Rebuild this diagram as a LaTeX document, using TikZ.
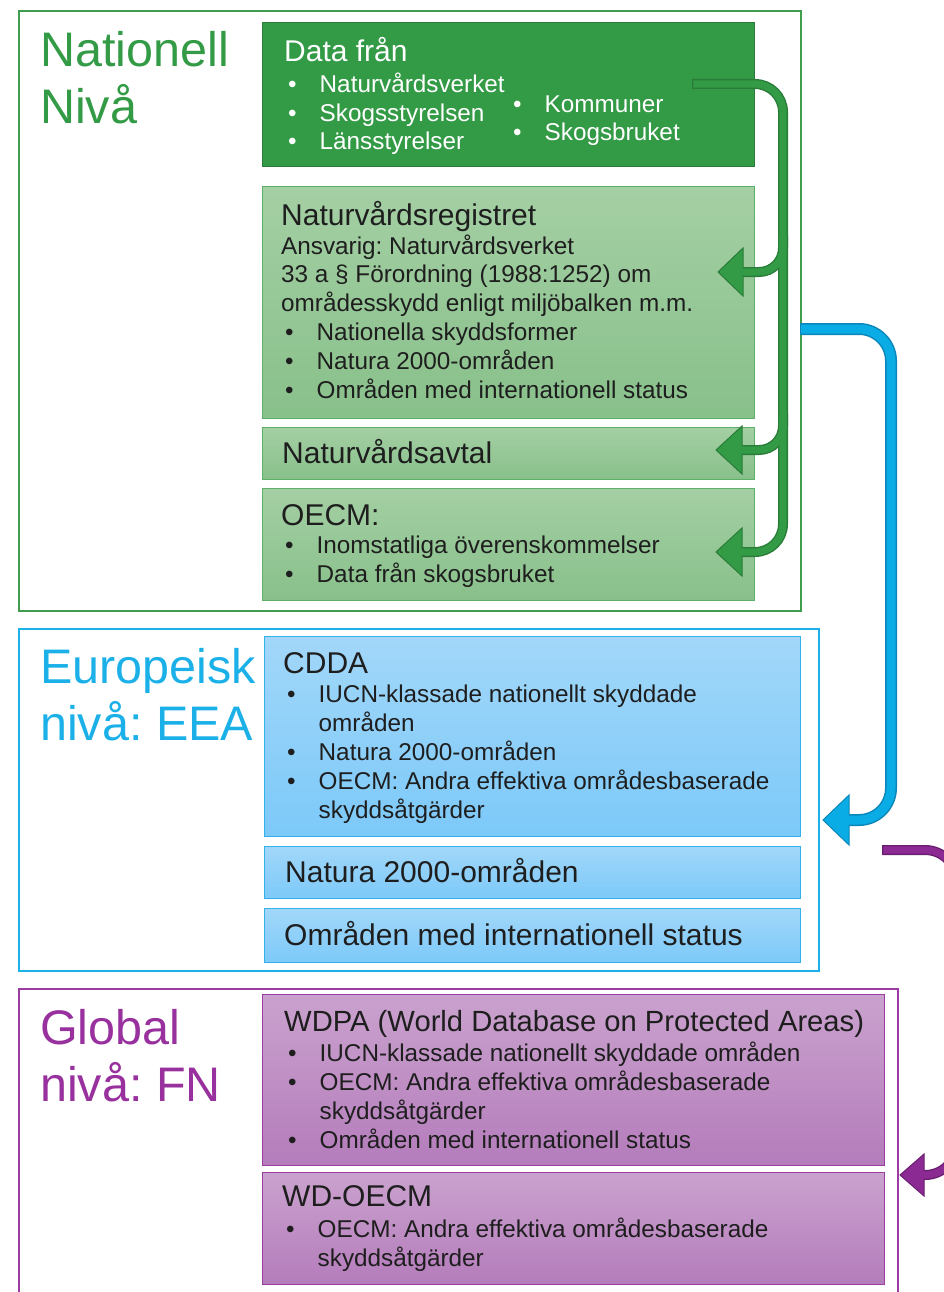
\documentclass[tikz,border=0pt]{standalone}
\usepackage{fontspec}
\setmainfont{Liberation Sans}
\usetikzlibrary{positioning}
\frenchspacing

\definecolor{natgreen}{HTML}{339A46}
\definecolor{natdark}{HTML}{2A7D38}
\definecolor{natline}{HTML}{3E9E4D}
\definecolor{natlight}{HTML}{A4CFA4}
\definecolor{natmid}{HTML}{88C08A}
\definecolor{natedge}{HTML}{5DB068}
\definecolor{eublue}{HTML}{1BB1E8}
\definecolor{eulight}{HTML}{A2D7F9}
\definecolor{eumid}{HTML}{7CC9F9}
\definecolor{euedge}{HTML}{34B2EA}
\definecolor{euarrow}{HTML}{0AACE6}
\definecolor{eudark}{HTML}{0B86B8}
\definecolor{fnpurple}{HTML}{98309E}
\definecolor{fnlight}{HTML}{CAA2CE}
\definecolor{fnmid}{HTML}{B47CBB}
\definecolor{fnedge}{HTML}{9C3CA2}
\definecolor{fnarrow}{HTML}{8C2A94}
\definecolor{fndark}{HTML}{6A1E70}
\definecolor{bodytext}{HTML}{1E1E1E}

\newcommand{\bul}{\makebox[35.5pt][l]{\hspace*{4pt}\textbullet}}
\newcommand{\ind}{\hspace*{35.5pt}}
% left pointing arrow head: tip, fill, edge, length, half width
\newcommand{\lefttip}[5]{%
  \filldraw[fill=#2, draw=#3, line width=1pt, line join=miter]
    (#1) -- ++(#4,-#5) -- ++(0,2*#5) -- cycle;}

\begin{document}
\begin{tikzpicture}[x=1pt, y=-1pt,
    frame/.style={draw, line width=1.6pt, anchor=north west, inner sep=0},
    box/.style={draw, line width=1pt, anchor=north west, inner sep=0},
    gbox/.style={box, draw=natedge, top color=natlight, bottom color=natmid},
    bbox/.style={box, draw=euedge, top color=eulight, bottom color=eumid},
    pbox/.style={box, draw=fnedge, top color=fnlight, bottom color=fnmid},
    sz/.style 2 args={minimum width=#1pt, minimum height=#2pt},
    txt/.style={anchor=base west, align=left, inner sep=0, text=bodytext,
      font=\fontsize{24.3}{28.8}\selectfont},
    head/.style={txt, font=\fontsize{30}{34}\selectfont},
    big/.style={anchor=base west, align=left, inner sep=0,
      font=\fontsize{48.5}{57}\selectfont}]
    \useasboundingbox (0,0) rectangle (944,1292);
    \clip (0,0) rectangle (944,1292);

    % frames
    \node[frame, draw=natline, sz={782}{600}] (natframe) at (18,10) {};
    \node[frame, draw=eublue, sz={800}{342}] (euframe) at (18,628) {};
    \node[frame, draw=fnedge, sz={879}{320}] (fnframe) at (18,988) {};

    % multi-line nodes sit on the baseline of their last line
    \node[big, text=natgreen] (natlab) at (40,124) {Nationell\\Nivå};
    \node[big, text=eublue] (eulab) at (40,740) {Europeisk\\nivå: EEA};
    \node[big, text=fnpurple] (fnlab) at (40,1101) {Global\\nivå: FN};

    % nationell nivå
    \node[box, draw=natdark, fill=natgreen, sz={492}{144}] (data) at (262,22) {};
    \node[gbox, sz={492}{232}] (reg) at (262,186) {};
    \node[gbox, sz={492}{52}] (avtal) at (262,427) {};
    \node[gbox, sz={492}{112}] (oecm) at (262,488) {};

    \node[head, text=white] (datat) at (284,62) {Data från};
    \node[txt, text=white] (datal) at (284,150) {\bul Naturvårdsverket\\\bul Skogsstyrelsen\\\bul Länsstyrelser};
    \node[txt, text=white] (datar) at (509,141) {\bul Kommuner\\\bul Skogsbruket};

    \node[head] (regt) at (281,225) {Naturvårdsregistret};
    \node[txt] (regb) at (281,398) {Ansvarig: Naturvårdsverket\\33 a § Förordning (1988:1252) om\\områdesskydd enligt miljöbalken m.m.\\\bul Nationella skyddsformer\\\bul Natura 2000-områden\\\bul Områden med internationell status};
    \node[head] (avtalt) at (282,463) {Naturvårdsavtal};
    \node[head] (oecmt) at (281,525) {OECM:};
    \node[txt] (oecmb) at (281,582) {\bul Inomstatliga överenskommelser\\\bul Data från skogsbruket};

    % europeisk nivå
    \node[bbox, sz={536}{200}] (cdda) at (264,636) {};
    \node[bbox, sz={536}{52}] (n2000) at (264,846) {};
    \node[bbox, sz={536}{54}] (intl) at (264,908) {};

    \node[head] (cddat) at (283,673) {CDDA};
    \node[txt] (cddab) at (283,818) {\bul IUCN-klassade nationellt skyddade\\\ind områden\\\bul Natura 2000-områden\\\bul OECM: Andra effektiva områdesbaserade\\\ind skyddsåtgärder};
    \node[head] (n2000t) at (285,882) {Natura 2000-områden};
    \node[head] (intlt) at (284,945) {Områden med internationell status};

    % global nivå
    \node[pbox, sz={622}{171}] (wdpa) at (262,994) {};
    \node[pbox, sz={622}{112}] (wdoecm) at (262,1172) {};

    \node[head, font=\fontsize{29.2}{34}\selectfont] (wdpat) at (284,1031) {WDPA (World Database on Protected Areas)};
    \node[txt] (wdpab) at (284,1148) {\bul IUCN-klassade nationellt skyddade områden\\\bul OECM: Andra effektiva områdesbaserade\\\ind skyddsåtgärder\\\bul Områden med internationell status};
    \node[head] (wdoecmt) at (282,1206) {WD-OECM};
    \node[txt] (wdoecmb) at (282,1266) {\bul OECM: Andra effektiva områdesbaserade\\\ind skyddsåtgärder};

    % arrow points
    \coordinate (gsrc) at (692,84);
    \coordinate (gtip1) at (718,272);
    \coordinate (gtip2) at (716,450);
    \coordinate (gtip3) at (716,552);
    \coordinate (bsrc) at (800,329);
    \coordinate (btip) at (823,820);
    \coordinate (psrc) at (882,850);
    \coordinate (ptip) at (900,1175);

    % green arrows: border, heads, then inner colour
    \foreach \w/\c/\s/\o in {10/natdark/24/0, 7.2/natgreen/20/1.4} {
      \draw[line width=\w pt, \c, rounded corners=28] ([xshift=\o]gsrc) -- (783,84) -- (783,552) -- ([xshift=\s]gtip3);
      \draw[line width=\w pt, \c, rounded corners=24] (783,236) |- ([xshift=\s]gtip1);
      \draw[line width=\w pt, \c, rounded corners=24] (783,414) |- ([xshift=\s]gtip2);
      \ifnum\s=24
        \lefttip{gtip1}{natgreen}{natdark}{25}{24}
        \lefttip{gtip2}{natgreen}{natdark}{26}{24}
        \lefttip{gtip3}{natgreen}{natdark}{26}{24}
      \fi
    }

    % blue arrow
    \draw[line width=12pt, eudark, rounded corners=32] (bsrc) -- (891,329) -- (891,820) -- ([xshift=24]btip);
    \lefttip{btip}{euarrow}{eudark}{26}{25}
    \draw[line width=9pt, euarrow, rounded corners=32] ([xshift=1]bsrc) -- (891,329) -- (891,820) -- ([xshift=22]btip);

    % purple arrow
    \draw[line width=10pt, fndark, rounded corners=32] (psrc) -- (957,850) -- (957,1175) -- ([xshift=22]ptip);
    \lefttip{ptip}{fnarrow}{fndark}{24}{21}
    \draw[line width=7.2pt, fnarrow, rounded corners=32] ([xshift=1.4]psrc) -- (957,850) -- (957,1175) -- ([xshift=20]ptip);
\end{tikzpicture}
\end{document}
